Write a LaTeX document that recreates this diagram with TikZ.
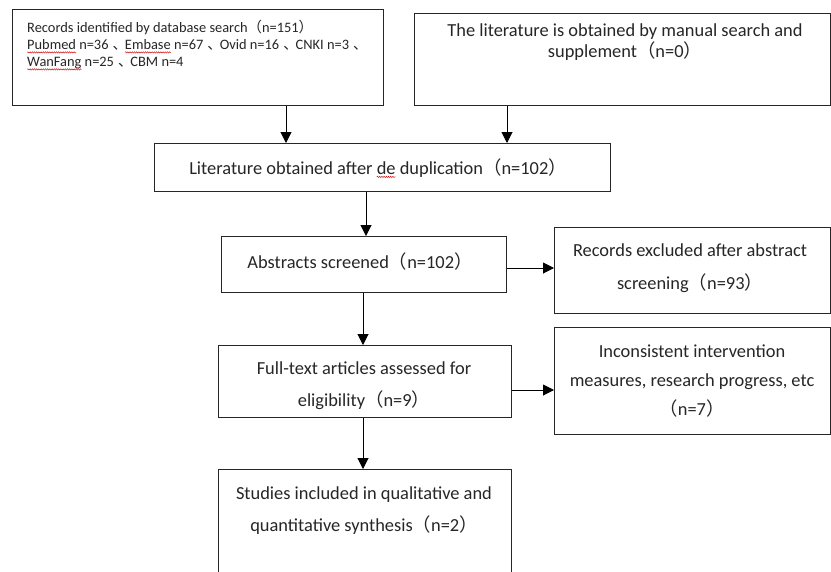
\documentclass[tikz,border=0pt]{standalone}
\usepackage{fontspec}
\setmainfont{Carlito}
\newfontfamily\cjk{Noto Sans CJK SC}
\usetikzlibrary{arrows.meta,decorations.pathmorphing}
\newcommand\lp{{\cjk （}}
\newcommand\rp{{\cjk ）}}
\newcommand\dn{\kern4pt{\cjk 、}\kern-2pt}
\newcommand\sq[1]{\tikz[baseline=(w.base)]{\node[draw=none,inner sep=0pt,outer sep=0pt,text width={},minimum size=0pt,anchor=base](w){#1};\draw[overlay,red!80!black,line width=0.4pt,decorate,decoration={snake,amplitude=0.7pt,segment length=2.2pt}]([yshift=-2.5pt]w.base west)--([yshift=-2.5pt]w.base east);}}
\tikzset{
  box/.style={draw=black!85,line width=0.9pt,inner sep=0pt,anchor=north west},
  txt/.style={inner sep=0pt,align=center,text=black!85,font=\fontsize{18.4}{32}\selectfont},
  arr/.style={draw=black,line width=1pt,-{Triangle[length=11pt,width=11pt]}}
}
\begin{document}
\begin{tikzpicture}[x=1pt,y=-1pt]
\useasboundingbox (0,0) rectangle (831,571);
\fill[white] (0,0) rectangle (831,571);
% boxes
\node[box,minimum width=371pt,minimum height=96pt] (b1) at (12,9) {};
\node[box,minimum width=416pt,minimum height=92pt] (b2) at (414,13) {};
\node[box,minimum width=456pt,minimum height=48pt] (b3) at (154,143) {};
\node[box,minimum width=285pt,minimum height=56pt] (b4) at (221,236) {};
\node[box,minimum width=276pt,minimum height=86pt] (b5) at (554,227) {};
\node[box,minimum width=293pt,minimum height=72pt] (b6) at (218,345) {};
\node[box,minimum width=276pt,minimum height=107pt] (b7) at (554,327) {};
\node[box,minimum width=293pt,minimum height=111pt] (b8) at (218,469) {};
% texts
\node[txt,align=left,anchor=west,font=\fontsize{14.4}{17}\selectfont] (t1) at (27,45)
  {Records identified by database search\lp n=151\rp\\
   \sq{Pubmed} n=36\dn\sq{Embase} n=67\dn Ovid n=16\dn CNKI n=3\dn\\
   \sq{WanFang} n=25\dn CBM n=4};
\node[txt,font=\fontsize{18.4}{21}\selectfont] (t2) at (625,42)
  {The literature is obtained by manual search and\\ supplement\lp n=0\rp};
\node[txt] (t3) at (378,168) {Literature obtained after \sq{de} duplication\lp n=102\rp};
\node[txt] (t4) at (360,262) {Abstracts screened\lp n=102\rp};
\node[txt,font=\fontsize{18.4}{33}\selectfont] (t5) at (690,268) {Records excluded after abstract\\ screening\lp n=93\rp};
\node[txt] (t6) at (364,386) {Full-text articles assessed for\\ eligibility\lp n=9\rp};
\node[txt,font=\fontsize{18.4}{29}\selectfont] (t7) at (692,381) {Inconsistent intervention\\ measures, research progress, etc\\ \lp n=7\rp};
\node[txt] (t8) at (364,511) {Studies included in qualitative and\\ quantitative synthesis\lp n=2\rp};
% arrow x positions
\coordinate (xa) at (286,0);
\coordinate (xb) at (507,0);
\coordinate (xc) at (366,0);
\coordinate (xd) at (363,0);
\coordinate (ya) at (0,268);
\coordinate (yb) at (0,390);
\draw[arr] (b1.south -| xa) -- (b3.north -| xa);
\draw[arr] (b2.south -| xb) -- (b3.north -| xb);
\draw[arr] (b3.south -| xc) -- (b4.north -| xc);
\draw[arr] (b4.east |- ya) -- (b5.west |- ya);
\draw[arr] (b4.south -| xd) -- (b6.north -| xd);
\draw[arr] (b6.east |- yb) -- (b7.west |- yb);
\draw[arr] (b6.south -| xd) -- (b8.north -| xd);
\end{tikzpicture}
\end{document}
